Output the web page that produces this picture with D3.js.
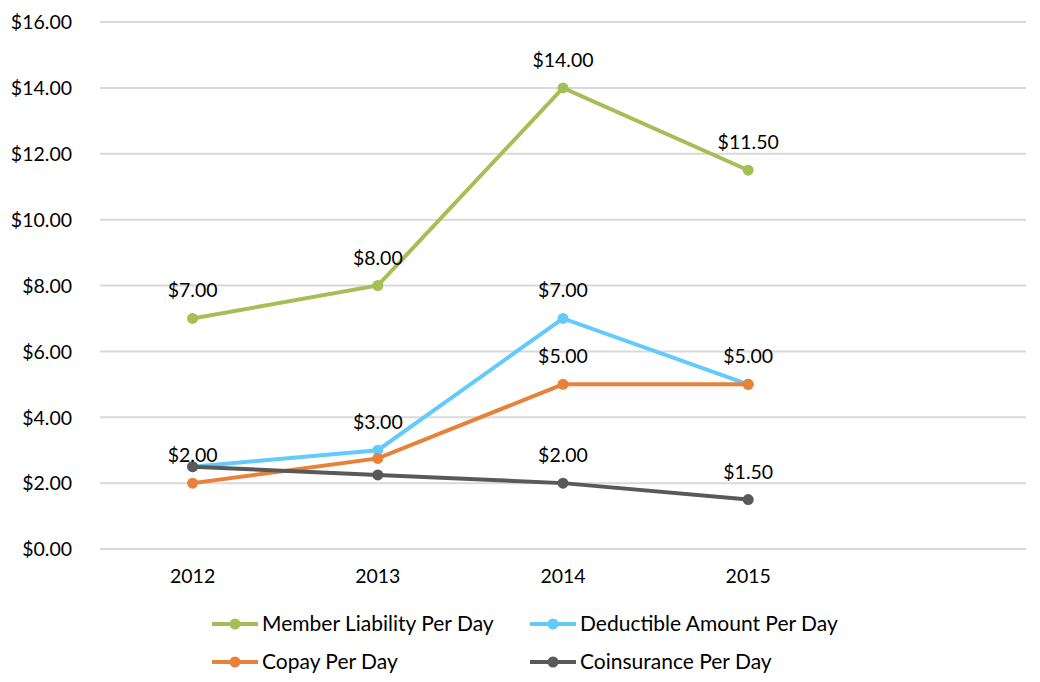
<!DOCTYPE html>
<html>
<head>
<meta charset="utf-8">
<script src="https://cdn.jsdelivr.net/npm/d3@7"></script>
<style>
  body { margin: 0; background: #fff; }
  text { font-family: "Lato", "Open Sans", sans-serif; fill: #000; }
</style>
</head>
<body>
<script>
// data
var years = ["2012", "2013", "2014", "2015", ""];
var memberLiability = [7, 8, 14, 11.5];
var deductible = [2.5, 3, 7, 5];
var copay = [2, 2.75, 5, 5];
var coinsurance = [2.5, 2.25, 2, 1.5];
var yTicks = [0, 2, 4, 6, 8, 10, 12, 14, 16];

// which points carry a value label
var memberLabels = [true, true, true, true];
var deductibleLabels = [false, true, true, false];
var copayLabels = [true, false, true, true];
var coinsuranceLabels = [false, false, true, true];

var series = [
  {name: "Member Liability Per Day", values: memberLiability, labels: memberLabels, color: "#a5bf56"},
  {name: "Deductible Amount Per Day", values: deductible, labels: deductibleLabels, color: "#62cbfb"},
  {name: "Copay Per Day", values: copay, labels: copayLabels, color: "#e8823a"},
  {name: "Coinsurance Per Day", values: coinsurance, labels: coinsuranceLabels, color: "#595959"}
];

var width = 1040, height = 682;
var margin = {left: 100, right: 14, top: 22, bottom: 133};
var numSize = "19.5px", legendSize = "21px";

var svg = d3.select("body").append("svg")
    .attr("width", width)
    .attr("height", height);

var x = d3.scaleBand()
    .domain(years)
    .range([margin.left, width - margin.right]);

var y = d3.scaleLinear()
    .domain([0, 16])
    .range([height - margin.bottom, margin.top]);

var fmt = function(v){ return "$" + v.toFixed(2); };

// gridlines
svg.append("g")
    .selectAll("line")
    .data(yTicks)
    .enter().append("line")
    .attr("x1", margin.left)
    .attr("x2", width - margin.right)
    .attr("y1", function(d){ return y(d); })
    .attr("y2", function(d){ return y(d); })
    .attr("stroke", "#d9d9d9")
    .attr("stroke-width", 2);

// y axis labels
var yAxis = svg.append("g")
    .attr("transform", "translate(" + (margin.left - 28) + ",0)")
    .call(d3.axisLeft(y).tickValues(yTicks).tickFormat(fmt).tickSize(0).tickPadding(0));
yAxis.select(".domain").remove();
yAxis.selectAll("text").style("font-size", numSize).attr("dy", "0.35em");

// x axis labels
var xAxis = svg.append("g")
    .attr("transform", "translate(0," + (height - margin.bottom) + ")")
    .call(d3.axisBottom(x).tickSize(0).tickPadding(20));
xAxis.select(".domain").remove();
xAxis.selectAll("text").style("font-size", numSize);

var cx = function(d, i){ return x(years[i]) + x.bandwidth() / 2; };

var line = d3.line()
    .x(cx)
    .y(function(d){ return y(d); });

series.forEach(function(s){
    var g = svg.append("g");
    g.append("path")
        .attr("d", line(s.values))
        .attr("fill", "none")
        .attr("stroke", s.color)
        .attr("stroke-width", 4);
    g.selectAll("circle")
        .data(s.values)
        .enter().append("circle")
        .attr("cx", cx)
        .attr("cy", function(d){ return y(d); })
        .attr("r", 5.5)
        .attr("fill", s.color);
});

// value labels on top
series.forEach(function(s){
    var pts = s.values.map(function(v, i){ return {v: v, i: i}; })
        .filter(function(p){ return s.labels[p.i]; });
    svg.append("g")
        .selectAll("text")
        .data(pts)
        .enter().append("text")
        .attr("x", function(p){ return cx(p.v, p.i); })
        .attr("y", function(p){ return y(p.v) - 21; })
        .attr("text-anchor", "middle")
        .style("font-size", numSize)
        .text(function(p){ return fmt(p.v); });
});

// legend
var legendPos = [[212, 624], [530, 624], [212, 662], [530, 662]];
series.forEach(function(s, i){
    var lg = svg.append("g")
        .attr("transform", "translate(" + legendPos[i][0] + "," + legendPos[i][1] + ")");
    lg.append("line")
        .attr("x1", 0).attr("x2", 46)
        .attr("stroke", s.color)
        .attr("stroke-width", 4);
    lg.append("circle")
        .attr("cx", 23).attr("r", 5.5)
        .attr("fill", s.color);
    lg.append("text")
        .attr("x", 50)
        .attr("dy", "0.35em")
        .style("font-size", legendSize)
        .text(s.name);
});
</script>
</body>
</html>
